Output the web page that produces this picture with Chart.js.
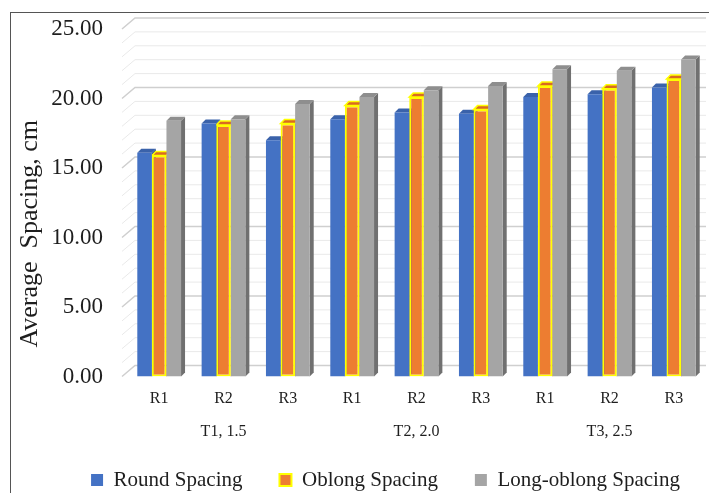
<!DOCTYPE html>
<html>
<head>
  <meta charset="utf-8" />
  <title>Average Spacing</title>
  <script src="https://cdn.jsdelivr.net/npm/chart.js"></script>
  <style>
    body { margin: 0; background: #fff; overflow: hidden; }
    #frame { position: absolute; left: 10px; top: 12px; width: 698px; height: 480px;
             border-left: 1px solid #555; border-top: 1px solid #555; }
    #chart { display: block; }
  </style>
</head>
<body>
  <div id="frame">
    <canvas id="chart" width="698" height="480"></canvas>
  </div>
  <script>
    const reps = ['R1', 'R2', 'R3', 'R1', 'R2', 'R3', 'R1', 'R2', 'R3'];
    const groups = ['', 'T1, 1.5', '', '', 'T2, 2.0', '', '', 'T3, 2.5', ''];
    const roundSpacing = [16.1, 18.2, 17.0, 18.5, 19.0, 18.9, 20.1, 20.3, 20.8];
    const oblongSpacing = [15.9, 18.1, 18.2, 19.5, 20.1, 19.2, 20.9, 20.7, 21.4];
    const longOblongSpacing = [18.4, 18.5, 19.6, 20.1, 20.6, 20.9, 22.1, 22.0, 22.8];
    const yTitle = 'Average  Spacing, cm';

    const serif = "'Liberation Serif', 'Times New Roman', serif";
    const textColor = '#1e1e1e';

    // darker faces for the fake 3D look
    const faces = [
      { side: '#2F528F', top: '#3A62AA' },
      { side: '#C55A11', top: '#D86B22', edge: '#FFFF00' },
      { side: '#707070', top: '#8E8E8E' }
    ];

    const wallPlugin = {
      id: 'wall',
      beforeDatasetsDraw(chart) {
        const ctx = chart.ctx;
        const y = chart.scales.y;
        const area = chart.chartArea;
        ctx.save();
        for (let v = 0; v <= 25; v++) {
          const py = y.getPixelForValue(v);
          ctx.strokeStyle = v % 5 === 0 ? '#CFCFCF' : '#E9E9E9';
          ctx.lineWidth = v % 5 === 0 ? 1.5 : 1;
          ctx.beginPath();
          ctx.moveTo(area.left - 5, py);
          ctx.lineTo(area.left + 8, py - 11);
          ctx.lineTo(area.right, py - 11);
          ctx.stroke();
        }
        // side and top faces, drawn before the fronts
        const dx = 4, dy = 4;
        chart.data.datasets.forEach((ds, i) => {
          const meta = chart.getDatasetMeta(i);
          const f = faces[i];
          meta.data.forEach(bar => {
            const w = bar.width, l = bar.x - w / 2, r = bar.x + w / 2;
            ctx.fillStyle = f.side;
            ctx.beginPath();
            ctx.moveTo(r, bar.y);
            ctx.lineTo(r + dx, bar.y - dy);
            ctx.lineTo(r + dx, bar.base - dy);
            ctx.lineTo(r, bar.base);
            ctx.closePath();
            ctx.fill();
            ctx.fillStyle = f.top;
            ctx.beginPath();
            ctx.moveTo(l, bar.y);
            ctx.lineTo(l + dx, bar.y - dy);
            ctx.lineTo(r + dx, bar.y - dy);
            ctx.lineTo(r, bar.y);
            ctx.closePath();
            ctx.fill();
            if (f.edge) {
              ctx.strokeStyle = f.edge;
              ctx.lineWidth = 1.5;
              ctx.stroke();
            }
          });
        });
        ctx.restore();
      },
      afterDraw(chart) {
        // value axis title, sits lower than the axis centre in the original
        const ctx = chart.ctx;
        const y = chart.scales.y;
        ctx.save();
        ctx.translate(19, (y.top + y.bottom) / 2 + 31);
        ctx.rotate(-Math.PI / 2);
        ctx.font = '26px ' + serif;
        ctx.fillStyle = textColor;
        ctx.textAlign = 'center';
        ctx.textBaseline = 'middle';
        ctx.fillText(yTitle, 0, 0);
        ctx.restore();
      },
      afterLayout(chart) {
        // legend sits a bit right of centre and a little higher in the original
        chart.legend.left += 27;
        chart.legend.right += 27;
        chart.legend.top -= 8;
        chart.legend.bottom -= 8;
      }
    };

    new Chart(document.getElementById('chart'), {
      type: 'bar',
      data: {
        labels: reps.map((r, i) => [r, groups[i]]),
        datasets: [
          { label: 'Round Spacing', data: roundSpacing, backgroundColor: '#4472C4' },
          { label: 'Oblong Spacing', data: oblongSpacing, backgroundColor: '#ED7D31',
            borderColor: '#FFFF00', borderWidth: 2, borderSkipped: false },
          { label: 'Long-oblong Spacing', data: longOblongSpacing, backgroundColor: '#A5A5A5' }
        ]
      },
      options: {
        responsive: false,
        animation: false,
        barPercentage: 1,
        categoryPercentage: 0.68,
        layout: { padding: { top: 16, right: 3, bottom: -15.5, left: 0 } },
        scales: {
          x: {
            grid: { display: false, drawTicks: false },
            border: { display: false },
            afterFit: s => { s.height = 64; },
            ticks: {
              color: textColor, padding: 6, maxRotation: 0, autoSkip: false,
              font: { family: serif, size: 16, lineHeight: 2.06 }
            }
          },
          y: {
            min: 0, max: 25,
            grid: { display: false, drawTicks: false },
            border: { display: false },
            afterFit: s => { s.width = 116; s.paddingTop = 0; s.paddingBottom = 0; },
            ticks: {
              stepSize: 5, padding: 24, color: textColor,
              font: { family: serif, size: 23 },
              callback: v => v.toFixed(2)
            }
          }
        },
        plugins: {
          legend: {
            position: 'bottom',
            labels: {
              boxWidth: 12, boxHeight: 12, padding: 37, color: textColor,
              font: { family: serif, size: 21 }
            }
          },
          tooltip: { enabled: false }
        }
      },
      plugins: [wallPlugin]
    });
  </script>
</body>
</html>
